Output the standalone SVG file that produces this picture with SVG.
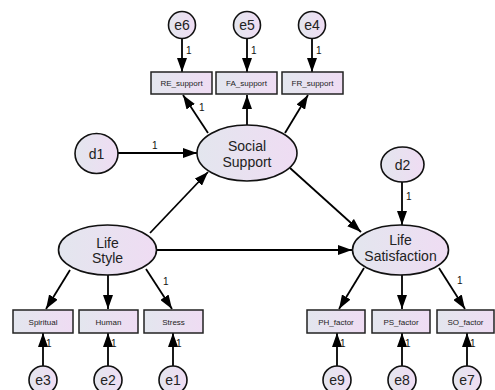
<svg xmlns="http://www.w3.org/2000/svg" width="495" height="390" viewBox="0 0 495 390">
<defs>
<linearGradient id="g" x1="0" y1="0" x2="1" y2="0">
<stop offset="0" stop-color="#e3e6ee"/>
<stop offset="1" stop-color="#efdcf3"/>
</linearGradient>
<marker id="ah" markerUnits="userSpaceOnUse" markerWidth="14" markerHeight="10" refX="14" refY="5" orient="auto">
<path d="M0,0 L14,5 L0,10 z" fill="#000"/>
</marker>
<style>
.n{fill:url(#g);stroke:#111;stroke-width:1.6}
.b{fill:url(#g);stroke:#222;stroke-width:1.5}
.t{font-family:"Liberation Sans",Arial,sans-serif;font-size:14px;fill:#222;text-anchor:middle}
.s{font-family:"Liberation Sans",Arial,sans-serif;font-size:8px;fill:#222;text-anchor:middle}
.o{font-family:"Liberation Sans",Arial,sans-serif;font-size:10px;fill:#111}
.c line{stroke:#000;stroke-width:1.8;marker-end:url(#ah)}
</style>
</defs>
<rect width="495" height="390" fill="#fff"/>
<g class="c" id="connectors">
<line x1="182" y1="38" x2="182" y2="72"/>
<line x1="247" y1="38" x2="247" y2="72"/>
<line x1="312" y1="38" x2="312" y2="72"/>
<line x1="208" y1="133" x2="183" y2="95"/>
<line x1="247" y1="125" x2="247" y2="95"/>
<line x1="285" y1="133" x2="308" y2="95"/>
<line x1="118" y1="153" x2="197" y2="153"/>
<line x1="150" y1="233" x2="208" y2="172"/>
<line x1="290" y1="168" x2="361" y2="232"/>
<line x1="157" y1="250" x2="352" y2="250"/>
<line x1="402" y1="182" x2="402" y2="225"/>
<line x1="70" y1="270" x2="46" y2="309"/>
<line x1="108" y1="275" x2="108" y2="309"/>
<line x1="146" y1="269" x2="172" y2="309"/>
<line x1="364" y1="268" x2="339" y2="309"/>
<line x1="402" y1="275" x2="402" y2="309"/>
<line x1="439" y1="268" x2="465" y2="309"/>
<line x1="43" y1="366" x2="43" y2="333"/>
<line x1="108" y1="366" x2="108" y2="333"/>
<line x1="173" y1="366" x2="173" y2="333"/>
<line x1="337" y1="366" x2="337" y2="333"/>
<line x1="402" y1="366" x2="402" y2="333"/>
<line x1="467" y1="366" x2="467" y2="333"/>
</g>
<g id="labels">
<text class="o" x="186" y="54">1</text>
<text class="o" x="251" y="54">1</text>
<text class="o" x="316" y="54">1</text>
<text class="o" x="199" y="111">1</text>
<text class="o" x="152" y="149">1</text>
<text class="o" x="406" y="200">1</text>
<text class="o" x="163" y="285">1</text>
<text class="o" x="457" y="284">1</text>
<text class="o" x="46" y="347">1</text>
<text class="o" x="111" y="347">1</text>
<text class="o" x="176" y="347">1</text>
<text class="o" x="340" y="347">1</text>
<text class="o" x="405" y="347">1</text>
<text class="o" x="470" y="347">1</text>
</g>
<g id="e6"><circle class="n" cx="182" cy="25" r="13.5"/><text class="t" x="182" y="30">e6</text></g>
<g id="e5"><circle class="n" cx="247" cy="25" r="13.5"/><text class="t" x="247" y="30">e5</text></g>
<g id="e4"><circle class="n" cx="312" cy="25" r="13.5"/><text class="t" x="312" y="30">e4</text></g>
<g id="RE_support"><rect class="b" x="151" y="72" width="61" height="22"/><text class="s" x="181.5" y="86">RE_support</text></g>
<g id="FA_support"><rect class="b" x="216" y="72" width="61" height="22"/><text class="s" x="246.5" y="86">FA_support</text></g>
<g id="FR_support"><rect class="b" x="282" y="72" width="61" height="22"/><text class="s" x="312.5" y="86">FR_support</text></g>
<g id="SocialSupport"><ellipse class="n" cx="247" cy="153" rx="50" ry="28"/><text class="t" x="247" y="151">Social</text><text class="t" x="247" y="167">Support</text></g>
<g id="d1"><ellipse class="n" cx="96.5" cy="153.5" rx="21.5" ry="20"/><text class="t" x="96.5" y="158.5">d1</text></g>
<g id="d2"><ellipse class="n" cx="402.5" cy="164.5" rx="21.5" ry="17.5"/><text class="t" x="402.5" y="169.5">d2</text></g>
<g id="LifeStyle"><ellipse class="n" cx="107.5" cy="250" rx="49" ry="25"/><text class="t" x="107.5" y="248">Life</text><text class="t" x="107.5" y="263">Style</text></g>
<g id="LifeSatisfaction"><ellipse class="n" cx="400.5" cy="250" rx="48" ry="25"/><text class="t" x="400.5" y="245">Life</text><text class="t" x="400.5" y="261">Satisfaction</text></g>
<g id="Spiritual"><rect class="b" x="13" y="310" width="60" height="23"/><text class="s" x="43" y="324.5">Spiritual</text></g>
<g id="Human"><rect class="b" x="79" y="310" width="59" height="23"/><text class="s" x="108.5" y="324.5">Human</text></g>
<g id="Stress"><rect class="b" x="144" y="310" width="59" height="23"/><text class="s" x="173.5" y="324.5">Stress</text></g>
<g id="PH_factor"><rect class="b" x="307" y="310" width="58" height="23"/><text class="s" x="336" y="324.5">PH_factor</text></g>
<g id="PS_factor"><rect class="b" x="372" y="310" width="58" height="23"/><text class="s" x="401" y="324.5">PS_factor</text></g>
<g id="SO_factor"><rect class="b" x="437" y="310" width="57" height="23"/><text class="s" x="465.5" y="324.5">SO_factor</text></g>
<g id="e3"><circle class="n" cx="43" cy="380" r="14"/><text class="t" x="43" y="385">e3</text></g>
<g id="e2"><circle class="n" cx="108" cy="380" r="14"/><text class="t" x="108" y="385">e2</text></g>
<g id="e1"><circle class="n" cx="173" cy="380" r="14"/><text class="t" x="173" y="385">e1</text></g>
<g id="e9"><circle class="n" cx="337" cy="380" r="14"/><text class="t" x="337" y="385">e9</text></g>
<g id="e8"><circle class="n" cx="402" cy="380" r="14"/><text class="t" x="402" y="385">e8</text></g>
<g id="e7"><circle class="n" cx="467" cy="380" r="14"/><text class="t" x="467" y="385">e7</text></g>
</svg>
